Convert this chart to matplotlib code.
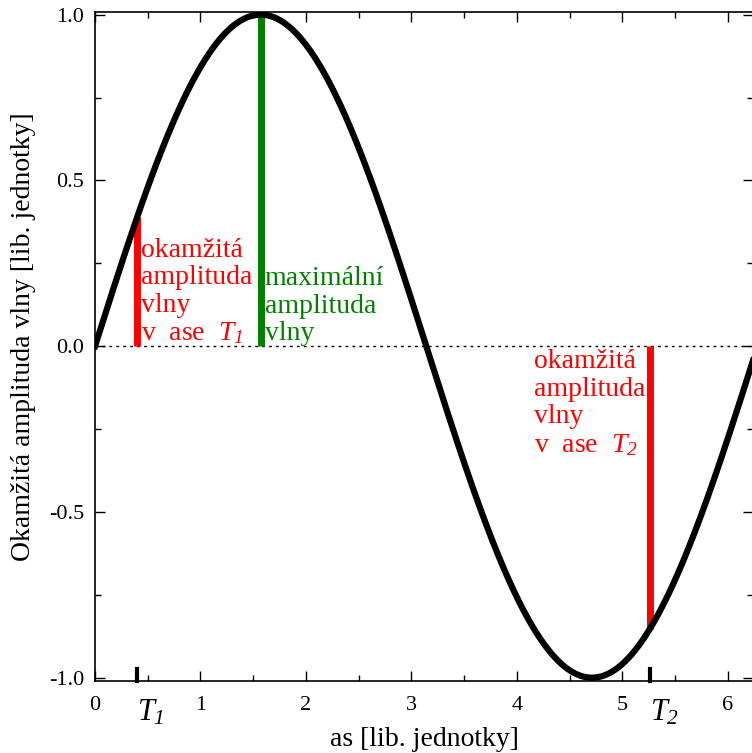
import matplotlib
matplotlib.use("Agg")
import matplotlib.pyplot as plt
import numpy as np
from matplotlib.ticker import MultipleLocator

plt.rcParams['font.family'] = ['Liberation Serif', 'DejaVu Serif']
plt.rcParams['mathtext.fontset'] = 'custom'
plt.rcParams['mathtext.it'] = 'Liberation Serif:italic'
plt.rcParams['mathtext.rm'] = 'Liberation Serif:italic'

# data
t1 = 0.4
t2 = 5.26
t_max = np.pi / 2
x_right = 6.24
label_t1 = "okamžitá\namplituda\nvlny\nv  ase  $T_1$"
label_t2 = "okamžitá\namplituda\nvlny\nv  ase  $T_2$"
label_max = "maximální\namplituda\nvlny"
yticks = [-1.0, -0.5, 0.0, 0.5, 1.0]
xticks = [0, 1, 2, 3, 4, 5, 6]

x = np.linspace(0, 2 * np.pi, 800)
y = np.sin(x)

fig = plt.figure(figsize=(7.52, 7.53), dpi=100)
ax = fig.add_axes([95 / 752, 72 / 753, 658 / 752, 669 / 753])

ax.axhline(0, color='black', lw=1, ls=(0, (2, 3)), zorder=1)
ax.plot(x, y, color='black', lw=4.5, zorder=3)

ax.vlines(t1, 0, np.sin(t1), color='red', lw=5, zorder=2)
ax.vlines(t_max, 0, 1, color='green', lw=5, zorder=2)
ax.vlines(t2, np.sin(t2), 0, color='red', lw=5, zorder=2)

ax.text(t1 + 0.04, 0.0, label_t1, color='red', fontsize=20, ha='left', va='bottom', linespacing=1.13)
ax.text(t_max + 0.04, 0.0, label_max, color='green', fontsize=20, ha='left', va='bottom', linespacing=1.13)
ax.text(t2 - 0.04, -0.01, label_t2, color='red', fontsize=20, ha='right', va='top',
        multialignment='left', linespacing=1.13)

ax.set_xlim(0, x_right)
ax.set_ylim(-1.01, 1.008)
ax.set_xticks(xticks)
ax.set_xticklabels([str(v) for v in xticks])
ax.set_yticks(yticks)
ax.set_yticklabels(["-1.0", "-0.5", "0.0", "0.5", "1.0"])
ax.xaxis.set_minor_locator(MultipleLocator(0.5))
ax.yaxis.set_minor_locator(MultipleLocator(0.25))
ax.tick_params(which='both', direction='in', top=True, right=True, labelsize=16, pad=8, width=1)
ax.tick_params(axis='x', which='major', pad=11)
ax.tick_params(which='major', length=7)
ax.tick_params(which='minor', length=4)
for s in ax.spines.values():
    s.set_linewidth(1.2)

# thick marks at T1 and T2
for tt, lab in [(t1, r"$T_1$"), (t2, r"$T_2$")]:
    ax.plot([tt, tt], [-1.01, -0.975], color='black', lw=3, clip_on=False, zorder=4)
    ax.text(tt, -1.06, lab, fontsize=22, ha='left', va='top')

ax.set_xlabel("as [lib. jednotky]", fontsize=20)
ax.xaxis.set_label_coords(0.5, -0.069)
ax.set_ylabel("Okamžitá amplituda vlny [lib. jednotky]", fontsize=20)
ax.yaxis.set_label_coords(-0.09, 0.515)

fig.savefig("out.png", dpi=100)
